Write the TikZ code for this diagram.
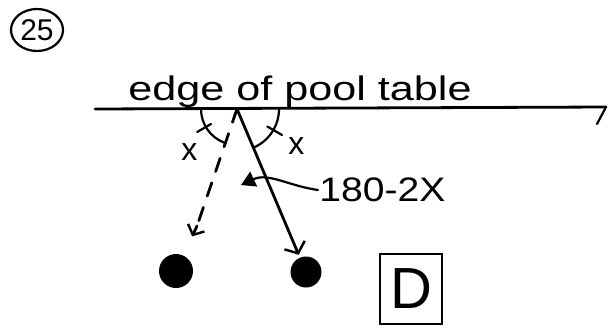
\documentclass[tikz,border=0pt]{standalone}
\usepackage{fontspec}
\setmainfont{Liberation Sans}
\usetikzlibrary{arrows.meta,positioning,calc,shapes.geometric}

\begin{document}
\begin{tikzpicture}[x=1pt,y=-1pt,
  hand/.style={line width=2.8pt,line cap=round},
  thin hand/.style={line width=2.2pt,line cap=round},
  ball/.style={circle,fill=black,inner sep=0pt,minimum size=32pt},
  label/.style={font=\fontsize{34}{36}\selectfont,inner sep=1pt},
  xmark/.style={font=\fontsize{32}{34}\selectfont,inner sep=0pt},
  shotarrow/.style={hand,-{Straight Barb[length=9pt,width=22pt,line width=2.4pt]}},
  backarrow/.style={hand,dash pattern=on 14pt off 12pt},
  backtip/.style={hand,-{Straight Barb[length=8pt,width=18pt,line width=2.4pt]}}
]
  \useasboundingbox (0,0) rectangle (609,327);
  % problem number
  \node[ellipse,draw,line width=2.2pt,minimum width=52pt,minimum height=42pt,inner sep=0pt,
        font=\fontsize{30}{32}\selectfont] (number) at (37,30) {25};
  % table edge
  \coordinate (tablestart) at (95,109);
  \coordinate (tableend) at (606,107);
  \coordinate (tableflick) at (597,124);
  \coordinate (apex) at (237,109);
  \draw[hand] (tablestart) -- (tableend);
  \draw[thin hand] (tableend) -- (tableflick);
  \node[label,anchor=base,xscale=1.27] (edge) at (300,100) {edge of pool table};
  % balls and paths
  \node[ball,minimum size=34pt] (leftball) at (176,271) {};
  \node[ball,minimum size=31pt] (rightball) at (306,272) {};
  \coordinate (backend) at (197,226);
  \draw[backarrow] (apex) -- (backend);
  \draw[backtip,shorten >=21pt] (backend) -- (leftball);
  \draw[shotarrow,shorten >=3pt] (apex) -- (rightball);
  % angles
  \draw[thin hand] (apex) ++(180:36) arc[start angle=180,end angle=110,radius=36];
  \draw[thin hand] (apex) ++(0:42) arc[start angle=0,end angle=66,radius=42];
  \draw[thin hand] ($(apex)+(150:30)$) -- ($(apex)+(150:46)$);
  \draw[thin hand] ($(apex)+(30:35)$) -- ($(apex)+(30:52)$);
  \node[xmark] (xleft) at ($(apex)+(138:64)$) {x};
  \node[xmark] (xright) at ($(apex)+(32:70)$) {x};
  % angle between the paths
  \coordinate (gap) at (241,185);
  \node[label,anchor=west,xscale=1.15] (sum) at (318,190) {180-2X};
  \draw[thin hand,-{Triangle[length=14pt,width=16pt]}] (sum.west) to[out=172,in=25] (gap);
  % answer
  \node[draw,line width=2.8pt,minimum width=62pt,minimum height=70pt,inner sep=0pt,
        font=\fontsize{58}{60}\selectfont] (answer) at (411,289) {D};
\end{tikzpicture}
\end{document}
